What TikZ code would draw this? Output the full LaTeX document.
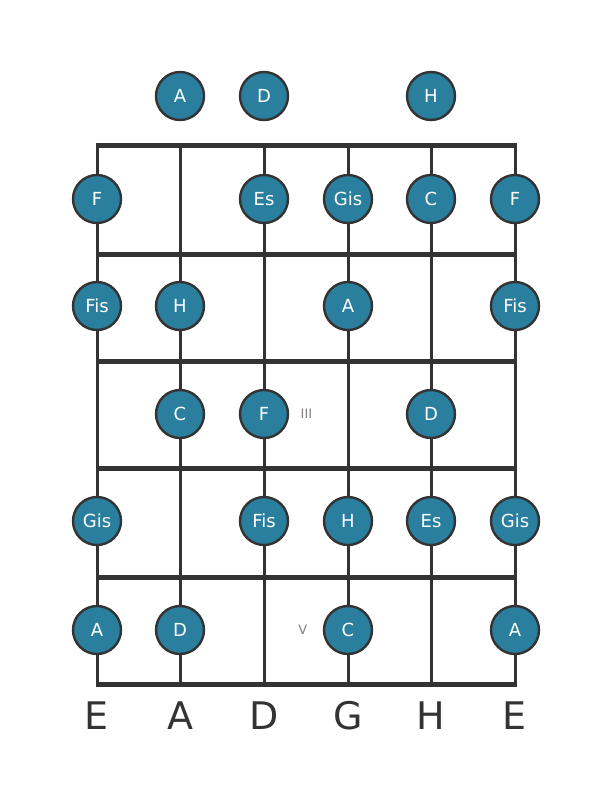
\documentclass[tikz,border=0pt]{standalone}
\usepackage{fontspec}
\setmainfont{DejaVu Sans}
\usetikzlibrary{positioning}
\definecolor{notefill}{HTML}{2B7F9E}
\definecolor{gridgray}{HTML}{333333}

\begin{document}
\begin{tikzpicture}[x=1pt, y=-1pt]
    \tikzset{
        note/.style = {circle, draw = gridgray, line width = 2.4pt, fill = notefill, minimum size = 48pt, inner sep = 0pt, text = white, font = \fontsize{18}{18}\selectfont},
        fret/.style = {draw = gridgray, line width = 5pt},
        strg/.style = {draw = gridgray, line width = 3pt},
        roman/.style = {text = gray, font = \fontsize{13}{13}\selectfont},
        strname/.style = {text = gridgray, font = \fontsize{38}{38}\selectfont}
    }
    \useasboundingbox (0,0) rectangle (611,801);

    % strings and frets
    \foreach \s/\x in {1/97, 2/180, 3/264, 4/348, 5/431, 6/515} {
        \coordinate (top\s) at (\x,145);
        \coordinate (bot\s) at (\x,684);
        \draw[strg] (top\s) -- (bot\s);
    }
    \foreach \f/\y in {0/145, 1/254, 2/361, 3/468, 4/577, 5/684} {
        \coordinate (fl\f) at (95.5,\y);
        \coordinate (fr\f) at (516.5,\y);
        \draw[fret] (fl\f) -- (fr\f);
    }

    % open strings
    \node[note] (o2) at (180,96) {A};
    \node[note] (o3) at (264,96) {D};
    \node[note] (o5) at (431,96) {H};

    % fret 1
    \node[note] (a1) at (97,199) {F};
    \node[note] (a3) at (264,199) {Es};
    \node[note] (a4) at (348,199) {Gis};
    \node[note] (a5) at (431,199) {C};
    \node[note] (a6) at (515,199) {F};

    % fret 2
    \node[note] (b1) at (97,306) {Fis};
    \node[note] (b2) at (180,306) {H};
    \node[note] (b4) at (348,306) {A};
    \node[note] (b6) at (515,306) {Fis};

    % fret 3
    \node[note] (c2) at (180,414) {C};
    \node[note] (c3) at (264,414) {F};
    \node[note] (c5) at (431,414) {D};
    \node[roman, right = 8pt of c3] (III) {III};

    % fret 4
    \node[note] (d1) at (97,521) {Gis};
    \node[note] (d3) at (264,521) {Fis};
    \node[note] (d4) at (348,521) {H};
    \node[note] (d5) at (431,521) {Es};
    \node[note] (d6) at (515,521) {Gis};

    % fret 5
    \node[note] (e1) at (97,630) {A};
    \node[note] (e2) at (180,630) {D};
    \node[note] (e4) at (348,630) {C};
    \node[note] (e6) at (515,630) {A};
    \node[roman, left = 12pt of e4] (V) {V};

    % string names
    \node[strname] (n1) at (97,716) {E};
    \node[strname] (n2) at (180,716) {A};
    \node[strname] (n3) at (264,716) {D};
    \node[strname] (n4) at (348,716) {G};
    \node[strname] (n5) at (431,716) {H};
    \node[strname] (n6) at (515,716) {E};
\end{tikzpicture}
\end{document}
